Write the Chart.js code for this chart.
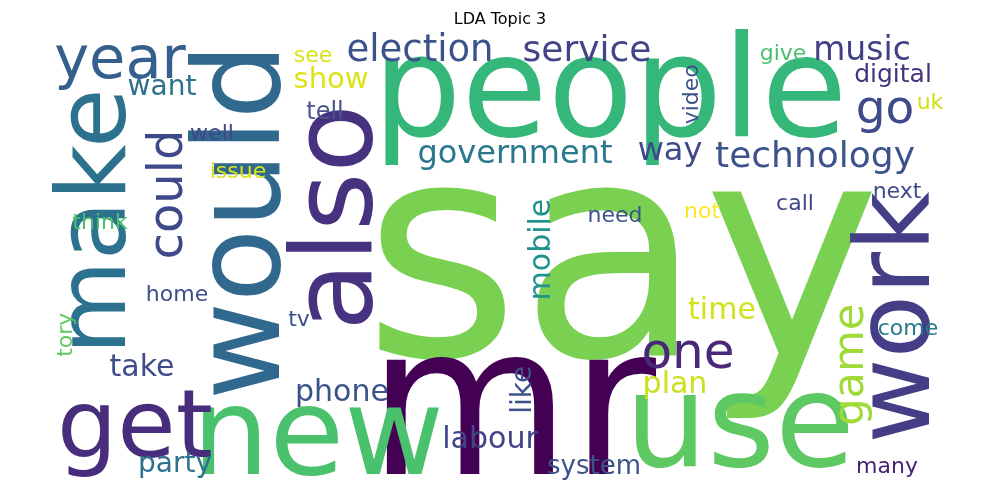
<!DOCTYPE html>
<html>
<head>
<meta charset="utf-8">
<script src="https://cdn.jsdelivr.net/npm/chart.js@4/dist/chart.umd.min.js"></script>
<style>
  body { margin: 0; background: #fff; }
  #wrap { width: 1000px; height: 500px; }
</style>
</head>
<body>
<div id="wrap"><canvas id="cloud"></canvas></div>
<script>
// words of the topic, with their place in the cloud and weight (font size)
var words = ['say','people','mr','use','new','would','also','make','get','work',
  'year','game','could','one','go','music','service','election','see','show',
  'want','technology','government','way','digital','give','video','uk','tell','well',
  'issue','think','mobile','need','not','call','next','time','come','home',
  'tory','tv','take','phone','like','plan','party','labour','system','many'];
var xs = [622,610,512,740,318,248,342,100,135,902,
  120,852,170,688,885,862,587,420,313,331,
  162,815,515,670,893,783,692,930,325,212,
  238,100,542,615,702,795,897,722,908,177,
  66,299,142,342,524,675,175,490,594,887];
var ys = [278,100,420,432,442,222,218,222,432,318,
  63,365,195,355,111,52,52,52,57,81,
  88,158,155,152,76,55,95,104,113,135,
  173,224,250,217,213,205,193,312,330,296,
  335,321,368,393,390,385,465,440,467,467];
var weights = [300,140,208,130,122,120,112,97,95,104,
  59,43,48,50,47,33,36,37,22,29,
  28,36,32,32,25,22,22,22,24,22,
  22,22,30,22,22,22,22,30,22,22,
  22,22,30,30,28,30,28,30,26,22];
var vertical = [0,0,0,0,0,1,1,1,0,1,
  0,1,1,0,0,0,0,0,0,0,
  0,0,0,0,0,0,1,0,0,0,
  0,0,1,0,0,0,0,0,0,0,
  1,0,0,0,1,0,0,0,0,0];
var colors = ['#7ad151','#35b779','#440154','#5ec962','#4ac16d','#31688e','#46327e','#2c728e','#472d7b','#433e85',
  '#355f8d','#a0da39','#3e4989','#482878','#3e4a89','#424086','#414487','#3b528b','#d8e219','#dde318',
  '#2c728e','#3b528b','#2a788e','#3e4989','#46337e','#4ac16d','#3b528b','#d0e11c','#46568b','#3f4788',
  '#d8e219','#4ac16d','#21918c','#3b528b','#fde725','#404688','#3e4a89','#d2e21b','#2a788e','#3d4e8a',
  '#5ec962','#3b528b','#3e4c8a','#3b528b','#3b528b','#cae11f','#2c728e','#404588','#3b528b','#482475'];

var wordPlugin = {
  id: 'words',
  afterDatasetsDraw: function (chart) {
    var ctx = chart.ctx;
    var meta = chart.getDatasetMeta(0);
    meta.data.forEach(function (pt, i) {
      ctx.save();
      ctx.translate(pt.x, pt.y);
      if (vertical[i]) ctx.rotate(-Math.PI / 2);
      ctx.font = weights[i] + 'px "DejaVu Sans"';
      ctx.fillStyle = colors[i];
      ctx.textAlign = 'center';
      ctx.textBaseline = 'middle';
      ctx.fillText(words[i], 0, 0);
      ctx.restore();
    });
  }
};

new Chart(document.getElementById('cloud'), {
  type: 'scatter',
  data: {
    datasets: [{
      data: words.map(function (w, i) { return { x: xs[i], y: ys[i] }; }),
      pointRadius: 0
    }]
  },
  options: {
    responsive: true,
    maintainAspectRatio: false,
    animation: false,
    layout: { padding: 0 },
    plugins: {
      legend: { display: false },
      tooltip: { enabled: false },
      title: {
        display: true,
        text: 'LDA Topic 3',
        color: '#000',
        font: { family: 'DejaVu Sans', size: 16, weight: 'normal' },
        padding: { top: 10, bottom: 1 }
      }
    },
    scales: {
      x: { type: 'linear', min: 0, max: 1000, display: false },
      y: { type: 'linear', min: 31, max: 500, reverse: true, display: false }
    }
  },
  plugins: [wordPlugin]
});
</script>
</body>
</html>
